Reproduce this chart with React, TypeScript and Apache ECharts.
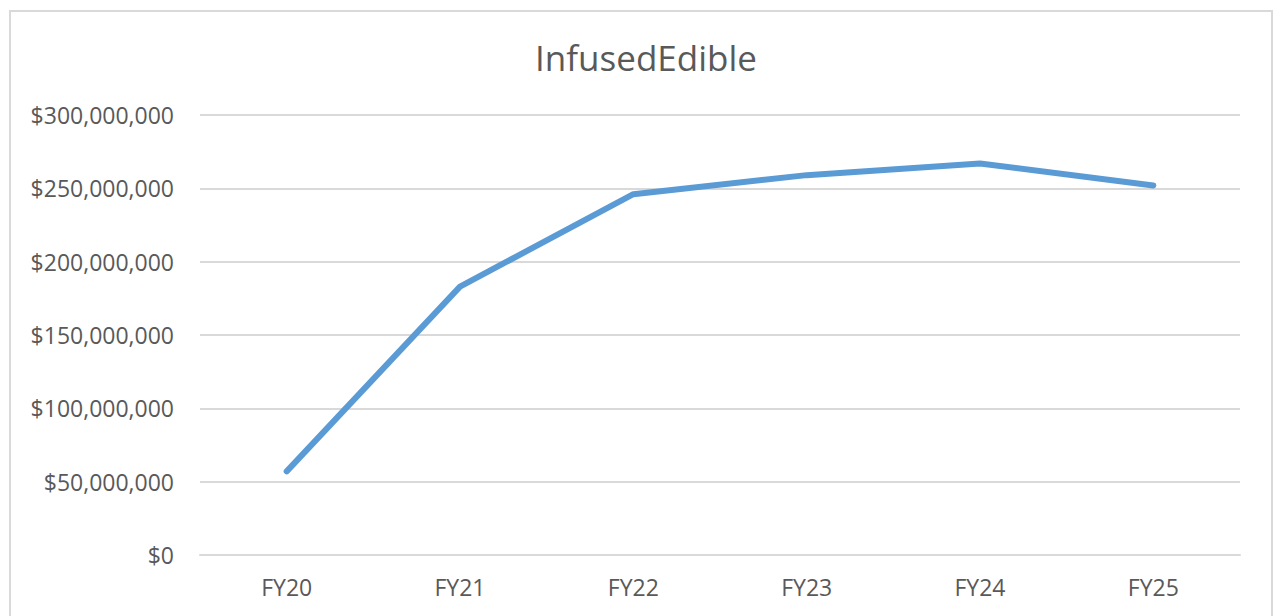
import React, { useEffect, useRef } from "react";
import * as echarts from "echarts";

const title = "InfusedEdible";
const categories = ["FY20", "FY21", "FY22", "FY23", "FY24", "FY25"];
const values = [57000000, 183000000, 246000000, 259000000, 267000000, 252000000];
const yMin = 0;
const yMax = 300000000;
const yInterval = 50000000;

const fmt = (v: number) => "$" + Math.round(v).toString().replace(/\B(?=(\d{3})+(?!\d))/g, ",");

export default function App() {
  const ref = useRef<HTMLDivElement>(null);
  useEffect(() => {
    if (!ref.current) return;
    const chart = echarts.init(ref.current, null, { renderer: "svg" });
    const font = "'Open Sans', sans-serif";
    chart.setOption({
      animation: false,
      backgroundColor: "#ffffff",
      title: {
        text: title,
        left: 641,
        top: 35,
        textAlign: "center",
        textStyle: { fontFamily: font, fontSize: 35, fontWeight: "normal", color: "#595959" },
      },
      graphic: [
        {
          type: "rect",
          shape: { x: 10, y: 11, width: 1262, height: 640 },
          style: { fill: "none", stroke: "#d9d9d9", lineWidth: 2 },
          silent: true,
        },
      ],
      grid: { left: 200, right: 36, top: 115, bottom: 61, containLabel: false },
      xAxis: {
        type: "category",
        data: categories,
        boundaryGap: true,
        axisLine: { show: true, lineStyle: { color: "#d9d9d9", width: 2 } },
        axisTick: { show: false },
        axisLabel: { fontFamily: font, fontSize: 23, color: "#595959", margin: 20 },
      },
      yAxis: {
        type: "value",
        min: yMin,
        max: yMax,
        interval: yInterval,
        axisLine: { show: false },
        axisTick: { show: false },
        splitLine: { lineStyle: { color: "#d9d9d9", width: 2 } },
        axisLabel: { fontFamily: font, fontSize: 23, color: "#595959", margin: 26, formatter: fmt },
      },
      series: [
        {
          type: "line",
          data: values,
          showSymbol: false,
          symbol: "none",
          lineStyle: { color: "#5b9bd5", width: 6, cap: "round", join: "round" },
          itemStyle: { color: "#5b9bd5" },
        },
      ],
    });
    return () => chart.dispose();
  }, []);
  return (
    <div
      ref={ref}
      style={{ position: "absolute", left: 0, top: 0, width: 1276, height: 616 }}
    />
  );
}
